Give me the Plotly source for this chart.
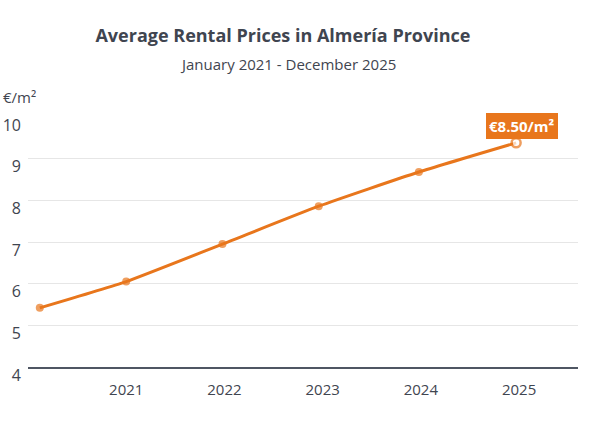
import plotly.graph_objects as go

# datos (precio medio de alquiler, EUR/m2)
anios = [2020.12, 2021.0, 2021.98, 2022.96, 2023.98, 2024.97]
precios = [5.42, 6.05, 6.95, 7.86, 8.68, 9.38]
ticks_x = [2021, 2022, 2023, 2024, 2025]
ticks_y = [4, 5, 6, 7, 8, 9, 10]
etiqueta_final = "€8.50/m²"

NARANJA = "#E8761C"
TEXTO = "#3F4550"
FUENTE = "Open Sans"

ANCHO, ALTO = 592, 444

fig = go.Figure()

fig.add_trace(go.Scatter(
    x=anios,
    y=precios,
    mode="lines+markers",
    line=dict(color=NARANJA, width=3, shape="spline", smoothing=0.5),
    marker=dict(
        color=[NARANJA] * (len(anios) - 1) + ["white"],
        size=[8] * (len(anios) - 1) + [9],
        line=dict(color=NARANJA, width=[0] * (len(anios) - 1) + [2.5]),
    ),
    showlegend=False,
    hoverinfo="skip",
))

# etiqueta del ultimo valor
fig.add_annotation(
    x=anios[-1], y=precios[-1],
    text="<b>" + etiqueta_final + "</b>",
    showarrow=False,
    yshift=17, xshift=6,
    bgcolor=NARANJA, bordercolor=NARANJA, borderpad=2,
    font=dict(family=FUENTE, size=15, color="white"),
)

# unidad del eje y
fig.add_annotation(
    xref="paper", yref="paper", x=0, y=1.0,
    xanchor="left", yanchor="bottom", yshift=8, xshift=-27,
    text="€/m²", showarrow=False,
    font=dict(family=FUENTE, size=15, color=TEXTO),
)

# subtitulo
fig.add_annotation(
    xref="paper", yref="paper", x=0.472, y=1.0,
    xanchor="center", yanchor="middle", yshift=53,
    text="January 2021 - December 2025", showarrow=False,
    font=dict(family=FUENTE, size=15, color=TEXTO),
)

fig.update_layout(
    width=ANCHO, height=ALTO,
    margin=dict(l=28, r=14, t=117, b=77, autoexpand=False),
    paper_bgcolor="white", plot_bgcolor="white",
    font=dict(family=FUENTE, color=TEXTO),
    title=dict(
        text="<b>Average Rental Prices in Almería Province</b>",
        x=0.478, xanchor="center", y=1 - 36 / ALTO, yanchor="middle",
        font=dict(family=FUENTE, size=18, color=TEXTO),
    ),
)

fig.update_xaxes(
    range=[2020.0, 2025.6],
    tickvals=ticks_x,
    ticktext=[str(t) for t in ticks_x],
    showgrid=False, zeroline=False, automargin=False,
    showline=True, linecolor="#4F5663", linewidth=2,
    ticks="", ticklabelstandoff=8,
    tickfont=dict(family=FUENTE, size=15, color=TEXTO),
)

fig.update_yaxes(
    range=[4, 10],
    tickvals=ticks_y,
    showgrid=True, gridcolor="#E6E6E6", gridwidth=1,
    zeroline=False, showline=False, automargin=False,
    ticks="", ticklabelshift=8, ticklabelstandoff=6,
    tickfont=dict(family=FUENTE, size=16, color=TEXTO),
)

# sin el margen de 8px del body la figura ocupa toda la ventana
fig.write_html(
    "out.html",
    config={"displayModeBar": False},
    post_script="document.body.style.margin = '0';",
)
